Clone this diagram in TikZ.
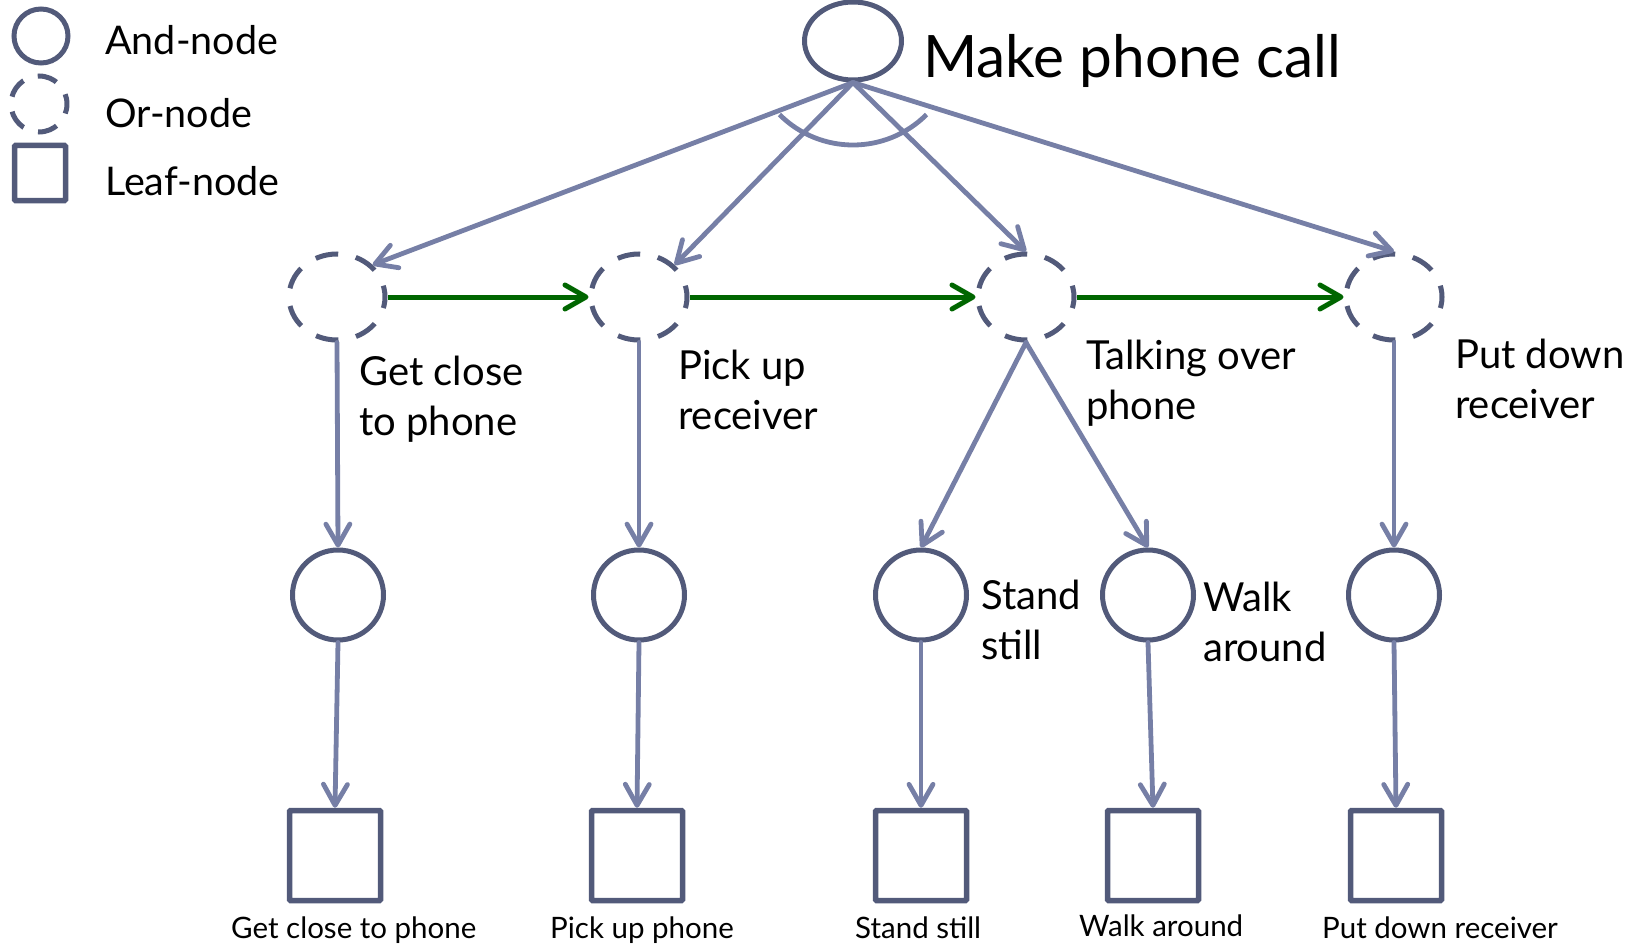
\documentclass[tikz,border=0pt]{standalone}
\usepackage{fontspec}
\setmainfont{Lato}
\usetikzlibrary{shapes.geometric,arrows.meta}
\definecolor{nodeline}{RGB}{82,90,122}
\definecolor{edgeblue}{RGB}{118,127,166}
\definecolor{seqgreen}{RGB}{0,102,0}
\begin{document}
\begin{tikzpicture}[x=1pt,y=-1pt,
  andnode/.style={draw=nodeline,line width=5pt,ellipse,minimum width=91pt,minimum height=90pt,inner sep=0pt},
  ornode/.style={draw=nodeline,line width=5pt,ellipse,dash pattern=on 23pt off 17.9pt,dash phase=11.5pt,minimum width=96pt,minimum height=86pt,inner sep=0pt},
  leafnode/.style={draw=nodeline,line width=5.5pt,rectangle,minimum width=91pt,minimum height=90pt,inner sep=0pt,rounded corners=1pt},
  treeedge/.style={draw=edgeblue,line width=4.8pt,line cap=round,-{Straight Barb[length=21pt,width=24pt,round]}},
  seqarrow/.style={draw=seqgreen,line width=5pt,-{Straight Barb[length=21pt,width=24pt,round]}},
  lbl/.style={anchor=base west,inner sep=0pt,align=left,font=\fontsize{40}{50}\selectfont},
  leaflbl/.style={anchor=base west,inner sep=0pt,font=\fontsize{29.5}{34}\selectfont},
  leglbl/.style={anchor=base west,inner sep=0pt,font=\fontsize{39.5}{48}\selectfont},
]
\useasboundingbox (0,0) rectangle (1631,947);

% legend
\node[andnode,minimum width=54pt,minimum height=54pt] (legand) at (41,36) {};
\node[ornode,minimum width=56pt,minimum height=56pt,dash pattern=on 20pt off 15.2pt,dash phase=10pt] (legor) at (39,104) {};
\node[leafnode,minimum width=51pt,minimum height=55pt] (legleaf) at (40,173) {};
\node[leglbl] (legandt) at (105,55) {And-node};
\node[leglbl] (legort) at (105,128) {Or-node};
\node[leglbl] (legleaft) at (105,195) {Leaf-node};

% root
\node[andnode,minimum width=97pt,minimum height=78pt] (top) at (853,41) {};
\node[anchor=base west,inner sep=0pt,font=\fontsize{58.5}{66}\selectfont] (toptext) at (923,78) {Make phone call};

% or nodes
\node[ornode] (or1) at (337,297) {};
\node[ornode] (or2) at (639,297) {};
\node[ornode] (or3) at (1026,297) {};
\node[ornode] (or4) at (1394,297) {};

% and nodes
\node[andnode] (and1) at (338,595) {};
\node[andnode] (and2) at (639,595) {};
\node[andnode] (and3) at (921,595) {};
\node[andnode] (and4) at (1148,595) {};
\node[andnode] (and5) at (1394,595) {};

% leaf nodes
\node[leafnode] (leaf1) at (335,855.5) {};
\node[leafnode] (leaf2) at (637,855.5) {};
\node[leafnode] (leaf3) at (921,855.5) {};
\node[leafnode] (leaf4) at (1153,855.5) {};
\node[leafnode] (leaf5) at (1396,855.5) {};

% labels (anchor = baseline of the last line)
\node[lbl] (l1) at (359,435) {Get close\\to phone};
\node[lbl] (l2) at (678,429) {Pick up\\receiver};
\node[lbl] (l3) at (1086,419) {Talking over\\phone};
\node[lbl] (l4) at (1455,418) {Put down\\receiver};
\node[lbl] (l5) at (981,659) {Stand\\still};
\node[lbl] (l6) at (1203,661) {Walk\\around};

\node[leaflbl] (b1) at (231,938) {Get close to phone};
\node[leaflbl] (b2) at (550,938) {Pick up phone};
\node[leaflbl] (b3) at (855,938) {Stand still};
\node[leaflbl] (b4) at (1079,936) {Walk around};
\node[leaflbl] (b5) at (1322,938) {Put down receiver};

% root edges
\draw[treeedge] (top.south) -- (or1.north east);
\draw[treeedge] (top.south) -- (or2.north east);
\draw[treeedge] (top.south) -- (or3.north);
\draw[treeedge] (top.south) -- (or4.north);
\draw[draw=edgeblue,line width=4.8pt] ([shift={(135:104)}]top.center) arc[start angle=135,end angle=45,radius=104];

% sequence arrows
\draw[seqarrow] (or1.east) -- (or2.west);
\draw[seqarrow] (or2.east) -- (or3.west);
\draw[seqarrow] (or3.east) -- (or4.west);

% or -> and
\draw[treeedge] (or1.south) -- (and1.north);
\draw[treeedge] (or2.south) -- (and2.north);
\draw[treeedge] (or3.south) -- (and3.north);
\draw[treeedge] (or3.south) -- (and4.north);
\draw[treeedge] (or4.south) -- (and5.north);

% and -> leaf
\draw[treeedge] (and1.south) -- (leaf1.north);
\draw[treeedge] (and2.south) -- (leaf2.north);
\draw[treeedge] (and3.south) -- (leaf3.north);
\draw[treeedge] (and4.south) -- (leaf4.north);
\draw[treeedge] (and5.south) -- (leaf5.north);
\end{tikzpicture}
\end{document}
